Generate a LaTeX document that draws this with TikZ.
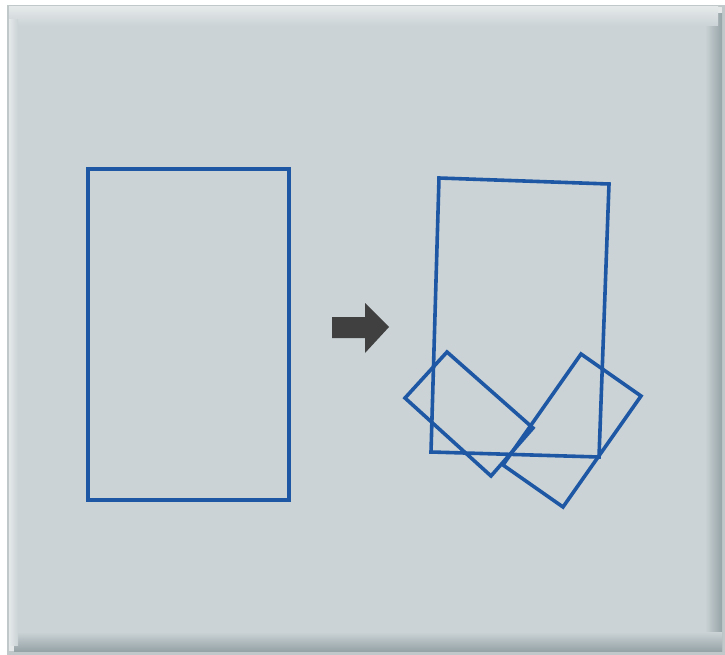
\documentclass[tikz,border=0pt]{standalone}
\definecolor{panel}{RGB}{203,211,214}
\definecolor{panelhi}{RGB}{228,232,233}
\definecolor{panello}{RGB}{150,163,167}
\definecolor{rectblue}{RGB}{30,88,165}
\definecolor{arrowgray}{RGB}{64,64,64}
\tikzset{
  paper/.style={draw=rectblue, line width=3.6pt, line join=miter},
}
\begin{document}
\begin{tikzpicture}[x=1pt,y=-1pt]
\useasboundingbox (0,0) rectangle (725,655);
\fill[white] (0,0) rectangle (725,655);
% panel with soft bevel
\fill[panello!60!white] (7,5) rectangle (725,655);
\fill[panelhi] (9,7) rectangle (722,651);
% right and bottom dark edges (soft)
\shade[left color=panel, right color=panello] (705,14) rectangle (722,651);
\shade[top color=panel, bottom color=panello] (14,632) rectangle (722,651);
% top and left light edges
\shade[top color=panelhi, bottom color=panel] (9,7) rectangle (718,26);
\shade[left color=panelhi, right color=panel] (9,20) rectangle (18,645);
\fill[panel] (18,26) rectangle (705,632);
% left page
\draw[paper] (88,169) rectangle (289,500);
% arrow
\fill[arrowgray] (332,317) -- (365,317) -- (365,303) -- (389,327) -- (365,353) -- (365,338) -- (332,338) -- cycle;
% rotated big page
\coordinate (a1) at (439,178);
\coordinate (a2) at (609,184);
\coordinate (a3) at (599,457);
\coordinate (a4) at (431,452);
\draw[paper] (a1) -- (a2) -- (a3) -- (a4) -- cycle;
% left small page
\coordinate (b1) at (447,352);
\coordinate (b2) at (533,428);
\coordinate (b3) at (491,476);
\coordinate (b4) at (405,398);
\draw[paper] (b1) -- (b2) -- (b3) -- (b4) -- cycle;
% right small page
\coordinate (c1) at (581,354);
\coordinate (c2) at (641,396);
\coordinate (c3) at (563,507);
\coordinate (c4) at (503,465);
\draw[paper] (c1) -- (c2) -- (c3) -- (c4) -- cycle;
\end{tikzpicture}
\end{document}
